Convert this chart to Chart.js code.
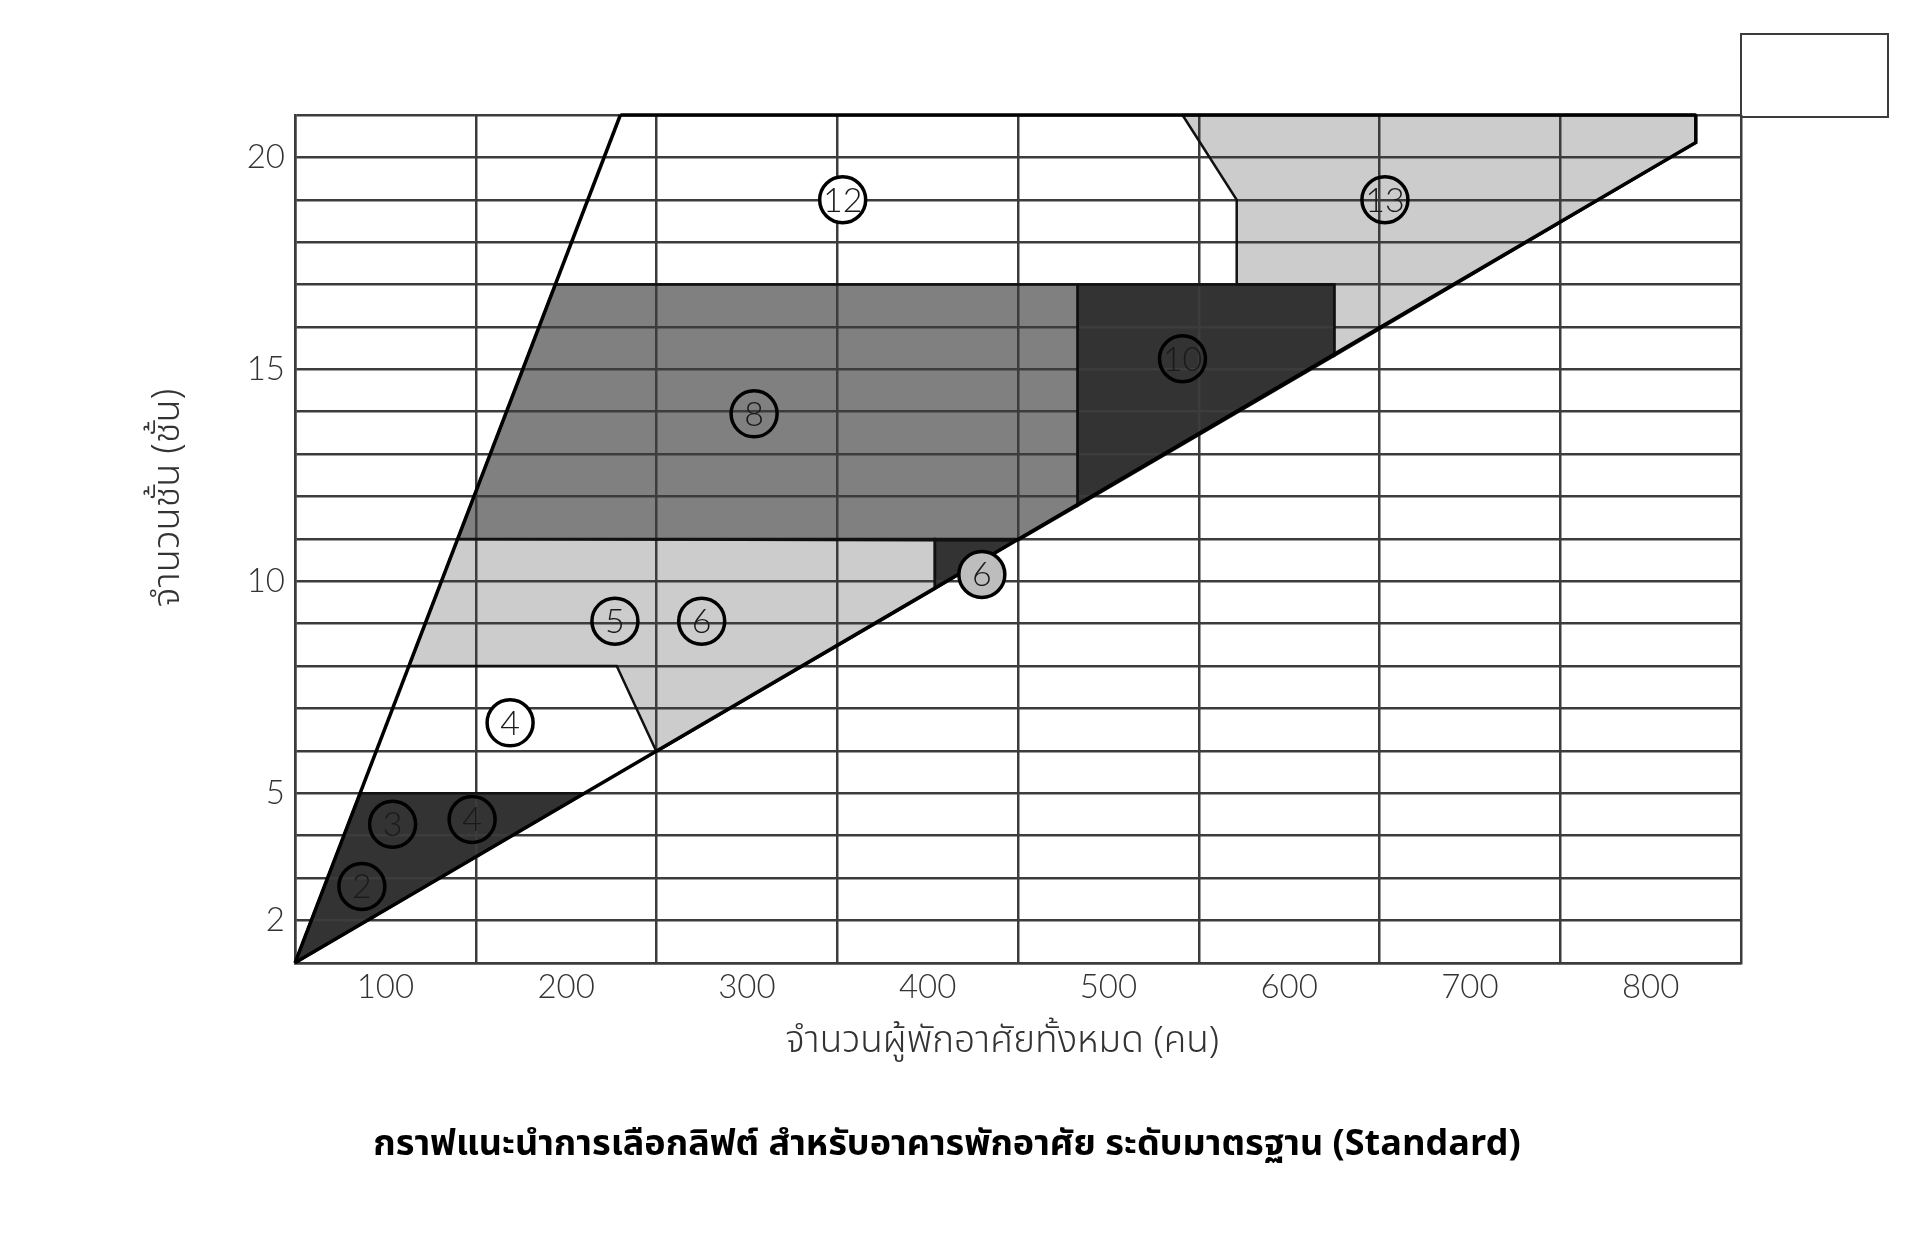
<!DOCTYPE html>
<html lang="th">
<head>
<meta charset="utf-8">
<title>กราฟแนะนำการเลือกลิฟต์</title>
<script src="https://cdn.jsdelivr.net/npm/chart.js@4.4.1/dist/chart.umd.min.js"></script>
<style>
    body { margin: 0; background: #ffffff; }
    #wrap { position: relative; width: 1920px; height: 1256px; }
    #cornerBox {
        position: absolute;
        left: 1740px; top: 33px;
        width: 145px; height: 81px;
        border: 2.5px solid #3c3c3c;
    }
</style>
</head>
<body>
<div id="wrap">
    <canvas id="liftChart" width="1920" height="1256"></canvas>
    <div id="cornerBox"></div>
</div>
<script>
// ===== DATA =====
const xTicks = [100, 200, 300, 400, 500, 600, 700, 800];
const yTicks = [2, 5, 10, 15, 20];

const xTitle = "จำนวนผู้พักอาศัยทั้งหมด (คน)";
const yTitle = "จำนวนชั้น (ชั้น)";

// main boundary lines (residents, floors)
const upperLineX = [50, 230];
const upperLineY = [1, 21];
const lowerLineX = [50, 825, 825];
const lowerLineY = [1, 20.35, 21];
const topLineX = [230, 825];
const topLineY = [21, 21];

// zones
const zoneSmallX = [50, 86, 210];
const zoneSmallY = [1, 5, 5];
const zoneMidX = [113, 140, 404, 404, 250, 228];
const zoneMidY = [8, 11, 11, 9.82, 5.98, 8];
const zone6X = [404, 404, 450];
const zone6Y = [9.82, 11, 11];
const zone8X = [140, 194, 483, 483, 450];
const zone8Y = [11, 17, 17, 11.78, 10.96];
const zone10X = [483, 625, 625, 483];
const zone10Y = [17, 17, 15.32, 11.78];
const zone13X = [541, 825, 825, 625, 625, 571, 571];
const zone13Y = [21, 21, 20.35, 15.32, 17, 17, 19];

// circled numbers
const labelText = ["2", "3", "4", "4", "5", "6", "6", "8", "10", "12", "13"];
const labelX = [87, 104, 148, 169, 227, 275, 430, 304, 541, 353, 653];
const labelY = [2.8, 4.27, 4.38, 6.66, 9.06, 9.06, 10.16, 13.95, 15.25, 19, 19];

// ===== STYLE =====
const gridColor = "#3c3c3c";
const numFont = "'Lato', 'Noto Sans', sans-serif";
const thaiFont = "'Noto Sans Thai', 'Noto Sans', sans-serif";
const DARK = "#333333";
const MID = "#808080";
const LIGHT = "#cccccc";
const labelFills = ["rgba(0,0,0,0)", "rgba(0,0,0,0)", "rgba(0,0,0,0)", "#ffffff", "rgba(0,0,0,0)",
    "rgba(0,0,0,0)", "#bdbdbd", "rgba(0,0,0,0)", "rgba(0,0,0,0)", "#ffffff", "rgba(0,0,0,0)"];

function toPoints(xs, ys) {
    return xs.map((x, i) => ({ x: x, y: ys[i] }));
}

function zone(xs, ys, color) {
    const pts = toPoints(xs, ys);
    pts.push(pts[0]);
    return {
        type: "line",
        data: pts,
        backgroundColor: color,
        borderColor: "#111111",
        borderWidth: 2.5,
        fill: "shape",
        pointRadius: 0,
        tension: 0,
        order: 3,
        clip: false
    };
}

function edge(xs, ys) {
    return {
        type: "line",
        data: toPoints(xs, ys),
        borderColor: "#000000",
        borderWidth: 3.5,
        fill: false,
        pointRadius: 0,
        tension: 0,
        order: 2,
        clip: false
    };
}

// ===== LABELS PLUGIN =====
const chartText = {
    id: "chartText",
    afterDatasetsDraw(chart) {
        const meta = chart.getDatasetMeta(chart.data.datasets.length - 1);
        const area = chart.chartArea;
        const ctx = chart.ctx;
        ctx.save();
        ctx.font = "300 34px " + numFont;
        ctx.fillStyle = "#1a1a1a";
        ctx.textAlign = "center";
        ctx.textBaseline = "middle";
        meta.data.forEach((pt, i) => {
            ctx.fillText(labelText[i], pt.x, pt.y + 1);
        });

        // axis titles
        ctx.font = "300 37px " + thaiFont;
        ctx.fillStyle = "#333333";
        ctx.fillText(xTitle, area.left + area.width * 0.489, area.bottom + 82);
        ctx.translate(area.left - 124, area.top + area.height * 0.452);
        ctx.rotate(-Math.PI / 2);
        ctx.font = "300 38px " + thaiFont;
        ctx.fillText(yTitle, 0, 0);
        ctx.restore();
    }
};

// ===== CHART =====
new Chart(document.getElementById("liftChart"), {
    type: "scatter",
    data: {
        datasets: [
            zone(zoneSmallX, zoneSmallY, DARK),
            zone(zoneMidX, zoneMidY, LIGHT),
            zone(zone6X, zone6Y, DARK),
            zone(zone8X, zone8Y, MID),
            zone(zone10X, zone10Y, DARK),
            zone(zone13X, zone13Y, LIGHT),
            edge(upperLineX, upperLineY),
            edge(lowerLineX, lowerLineY),
            edge(topLineX, topLineY),
            {
                type: "scatter",
                data: toPoints(labelX, labelY),
                pointRadius: 23,
                pointStyle: "circle",
                backgroundColor: labelFills,
                borderColor: "#000000",
                borderWidth: 3.5,
                order: 0,
                clip: false
            }
        ]
    },
    options: {
        responsive: false,
        animation: false,
        events: [],
        layout: { padding: { top: 115, right: 179, left: 153, bottom: 0 } },
        plugins: {
            legend: { display: false },
            tooltip: { enabled: false },
            filler: { drawTime: "beforeDraw" },
            title: {
                display: true,
                position: "bottom",
                text: "กราฟแนะนำการเลือกลิฟต์ สำหรับอาคารพักอาศัย ระดับมาตรฐาน (Standard)",
                color: "#000000",
                font: { family: thaiFont, size: 36, weight: "bold" },
                padding: { top: 62, bottom: 87 }
            }
        },
        scales: {
            x: {
                type: "linear",
                min: 50,
                max: 850,
                afterFit: s => { s.height = 101; },
                ticks: {
                    stepSize: 50,
                    autoSkip: false,
                    maxRotation: 0,
                    padding: 5,
                    color: "#333333",
                    font: { family: numFont, size: 33, weight: 300 },
                    callback: v => xTicks.includes(v) ? String(v) : ""
                },
                grid: {
                    drawTicks: false,
                    lineWidth: 2.5,
                    color: c => (c.tick && c.tick.value % 100 === 50) ? gridColor : "rgba(0,0,0,0)"
                },
                border: { color: gridColor, width: 2.5 },
                title: { display: false }
            },
            y: {
                min: 1,
                max: 21,
                afterFit: s => { s.width = 142; },
                ticks: {
                    stepSize: 1,
                    autoSkip: false,
                    padding: 10,
                    color: "#333333",
                    font: { family: numFont, size: 33, weight: 300 },
                    callback: v => yTicks.includes(v) ? String(v) : ""
                },
                grid: { drawTicks: false, lineWidth: 2.5, color: gridColor },
                border: { color: gridColor, width: 2.5 },
                title: { display: false }
            }
        }
    },
    plugins: [chartText]
});
</script>
</body>
</html>
